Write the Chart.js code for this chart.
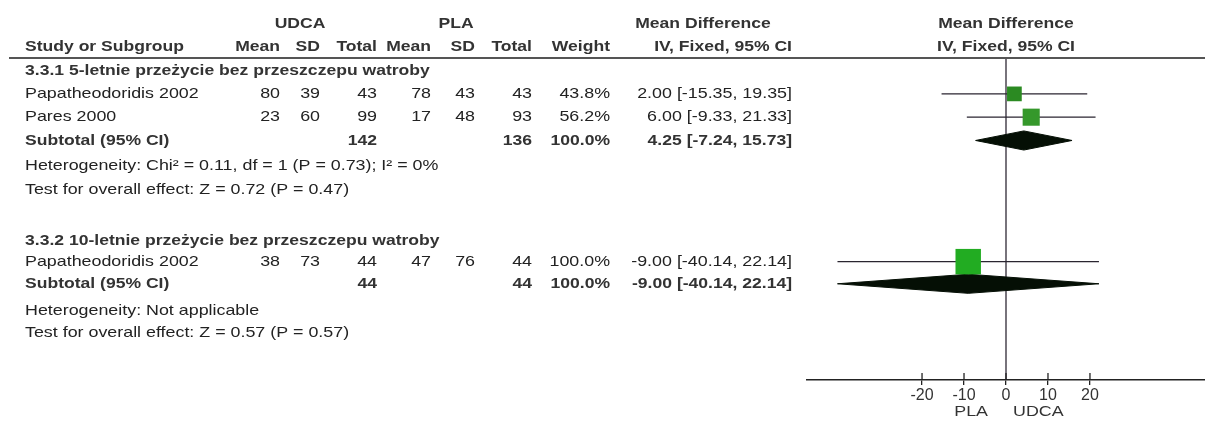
<!DOCTYPE html>
<html>
<head>
<meta charset="utf-8">
<script src="https://cdn.jsdelivr.net/npm/chart.js@4.4.1/dist/chart.umd.min.js"></script>
<style>
  html, body { margin: 0; padding: 0; background: #fff; overflow: hidden; }
  #wrap { width: 1205px; height: 423px; position: relative; }
  canvas { display: block; }
</style>
</head>
<body>
<div id="wrap"><canvas id="forest"></canvas></div>
<script>
// data
const groups = ['3.3.1 5-letnie przeżycie bez przeszczepu watroby', '3.3.2 10-letnie przeżycie bez przeszczepu watroby'];
const studies = ['Papatheodoridis 2002', 'Pares 2000', 'Papatheodoridis 2002'];
const studyGroup = [0, 0, 1];
const udcaMean = [80, 23, 38];
const udcaSD = [39, 60, 73];
const udcaN = [43, 99, 44];
const plaMean = [78, 17, 47];
const plaSD = [43, 48, 76];
const plaN = [43, 93, 44];
const weights = [43.8, 56.2, 100.0];
const md = [2.00, 6.00, -9.00];
const ciLow = [-15.35, -9.33, -40.14];
const ciHigh = [19.35, 21.33, 22.14];
const subUdcaN = [142, 44];
const subPlaN = [136, 44];
const subMd = [4.25, -9.00];
const subLow = [-7.24, -40.14];
const subHigh = [15.73, 22.14];
const heterogeneity = ['Heterogeneity: Chi² = 0.11, df = 1 (P = 0.73); I² = 0%', 'Heterogeneity: Not applicable'];
const overallEffect = ['Test for overall effect: Z = 0.72 (P = 0.47)', 'Test for overall effect: Z = 0.57 (P = 0.57)'];
const xTicks = [-20, -10, 0, 10, 20];

// layout: rows in "line" units
const groupRow = [2, 9.3];
const studyRow = [3, 4, 10.2];
const subRow = [5, 11.15];
const hetRow = [6.1, 12.3];
const testRow = [7.1, 13.25];
const ROW_TOP = 1.46, ROW_BOTTOM = 15.28;
const DIAMOND_H = 0.41;
const SX_REG = 1.19, SX_BOLD = 1.17;
const FONT = '"Liberation Sans", Arial, sans-serif';

const fmt = v => v.toFixed(2);
const ciText = (m, l, h) => fmt(m) + ' [' + fmt(l) + ', ' + fmt(h) + ']';

const datasets = [];
// squares
datasets.push({
  data: studies.map((s, i) => ({x: md[i], y: studyRow[i]})),
  pointStyle: 'rect',
  pointRadius: weights.map(w => 4.5 + 0.135 * w),
  pointBackgroundColor: ['#2b8a22', '#35982b', '#22ac22'],
  pointBorderWidth: 0,
  showLine: false
});
// diamonds
subMd.forEach((m, g) => {
  const r = subRow[g];
  datasets.push({
    data: [{x: subLow[g], y: r}, {x: m, y: r - DIAMOND_H}, {x: subHigh[g], y: r}, {x: m, y: r + DIAMOND_H}, {x: subLow[g], y: r}],
    showLine: true,
    fill: 'shape',
    backgroundColor: '#050f05',
    borderColor: '#050f05',
    borderWidth: 1,
    pointRadius: 0,
    tension: 0
  });
});
// confidence intervals
studies.forEach((s, i) => {
  datasets.push({
    data: [{x: ciLow[i], y: studyRow[i]}, {x: ciHigh[i], y: studyRow[i]}],
    showLine: true,
    borderColor: '#2a2530',
    borderWidth: 1.3,
    pointRadius: 0
  });
});
// line of no effect
datasets.push({
  data: [{x: 0, y: ROW_TOP}, {x: 0, y: ROW_BOTTOM}],
  showLine: true,
  borderColor: '#302a36',
  borderWidth: 1.3,
  pointRadius: 0
});

function txt(ctx, s, x, y, align, bold, color) {
  ctx.save();
  ctx.translate(x, y);
  ctx.scale(bold ? SX_BOLD : SX_REG, 1);
  ctx.font = (bold ? 'bold ' : '') + '15px ' + FONT;
  ctx.textAlign = align;
  ctx.textBaseline = 'middle';
  ctx.fillStyle = color || (bold ? '#333' : '#222');
  ctx.fillText(s, 0, 0);
  ctx.restore();
}

const tablePlugin = {
  id: 'forestTable',
  afterDraw(chart) {
    const ctx = chart.ctx;
    const ys = chart.scales.y, xs = chart.scales.x;
    const Y = r => ys.getPixelForValue(r);
    const cMid = xs.getPixelForValue(0);
    const L = 25;
    const col = {um: 280, usd: 320, un: 377, pm: 431, psd: 475, pn: 532, w: 610, ci: 792};

    // headers
    txt(ctx, 'UDCA', 300, Y(0), 'center', true);
    txt(ctx, 'PLA', 456, Y(0), 'center', true);
    txt(ctx, 'Mean Difference', 703, Y(0), 'center', true);
    txt(ctx, 'Mean Difference', cMid, Y(0), 'center', true);
    txt(ctx, 'Study or Subgroup', L, Y(1), 'left', true);
    txt(ctx, 'Mean', col.um, Y(1), 'right', true);
    txt(ctx, 'SD', col.usd, Y(1), 'right', true);
    txt(ctx, 'Total', col.un, Y(1), 'right', true);
    txt(ctx, 'Mean', col.pm, Y(1), 'right', true);
    txt(ctx, 'SD', col.psd, Y(1), 'right', true);
    txt(ctx, 'Total', col.pn, Y(1), 'right', true);
    txt(ctx, 'Weight', col.w, Y(1), 'right', true);
    txt(ctx, 'IV, Fixed, 95% CI', col.ci, Y(1), 'right', true);
    txt(ctx, 'IV, Fixed, 95% CI', cMid, Y(1), 'center', true);

    ctx.save();
    ctx.strokeStyle = '#555';
    ctx.lineWidth = 2;
    ctx.beginPath();
    ctx.moveTo(9, chart.chartArea.top);
    ctx.lineTo(1205, chart.chartArea.top);
    ctx.stroke();
    ctx.restore();

    groups.forEach((g, gi) => {
      txt(ctx, g, L, Y(groupRow[gi]), 'left', true);
      studies.forEach((s, i) => {
        if (studyGroup[i] !== gi) return;
        const y = Y(studyRow[i]);
        txt(ctx, s, L, y, 'left', false);
        txt(ctx, String(udcaMean[i]), col.um, y, 'right');
        txt(ctx, String(udcaSD[i]), col.usd, y, 'right');
        txt(ctx, String(udcaN[i]), col.un, y, 'right');
        txt(ctx, String(plaMean[i]), col.pm, y, 'right');
        txt(ctx, String(plaSD[i]), col.psd, y, 'right');
        txt(ctx, String(plaN[i]), col.pn, y, 'right');
        txt(ctx, weights[i].toFixed(1) + '%', col.w, y, 'right');
        txt(ctx, ciText(md[i], ciLow[i], ciHigh[i]), col.ci, y, 'right');
      });
      const ys2 = Y(subRow[gi]);
      txt(ctx, 'Subtotal (95% CI)', L, ys2, 'left', true);
      txt(ctx, String(subUdcaN[gi]), col.un, ys2, 'right', true);
      txt(ctx, String(subPlaN[gi]), col.pn, ys2, 'right', true);
      txt(ctx, '100.0%', col.w, ys2, 'right', true);
      txt(ctx, ciText(subMd[gi], subLow[gi], subHigh[gi]), col.ci, ys2, 'right', true);
      txt(ctx, heterogeneity[gi], L, Y(hetRow[gi]), 'left');
      txt(ctx, overallEffect[gi], L, Y(testRow[gi]), 'left');
    });

    // tick marks above the axis
    const ab = chart.chartArea.bottom;
    ctx.save();
    ctx.strokeStyle = '#222';
    ctx.lineWidth = 1.3;
    xTicks.forEach(v => {
      const px = xs.getPixelForValue(v);
      ctx.beginPath();
      ctx.moveTo(px, ab - 7);
      ctx.lineTo(px, ab);
      ctx.stroke();
    });
    ctx.restore();

    txt(ctx, 'PLA', cMid - 18, ab + 32, 'right', false, '#333');
    txt(ctx, 'UDCA', cMid + 7, ab + 32, 'left', false, '#333');
  }
};

const myChart = new Chart(document.getElementById('forest'), {
  type: 'scatter',
  data: { datasets: datasets },
  options: {
    responsive: true,
    maintainAspectRatio: false,
    animation: false,
    layout: { autoPadding: false, padding: { left: 807, top: 58, right: 0, bottom: 0 } },
    plugins: {
      legend: { display: false },
      tooltip: { enabled: false }
    },
    scales: {
      x: {
        type: 'linear',
        min: -47.4,
        max: 47.4,
        afterBuildTicks: s => { s.ticks = xTicks.map(v => ({value: v})); },
        afterFit: s => { s.height = 43; },
        grid: { drawOnChartArea: false, drawTicks: true, tickLength: 5, color: '#222', lineWidth: 1.3 },
        border: { color: '#222', width: 1.5 },
        ticks: {
          autoSkip: false,
          maxRotation: 0,
          padding: 1,
          color: '#333',
          font: { family: FONT, size: 16 }
        }
      },
      y: {
        type: 'linear',
        display: false,
        reverse: true,
        min: ROW_TOP,
        max: ROW_BOTTOM
      }
    }
  },
  plugins: [tablePlugin]
});
</script>
</body>
</html>
